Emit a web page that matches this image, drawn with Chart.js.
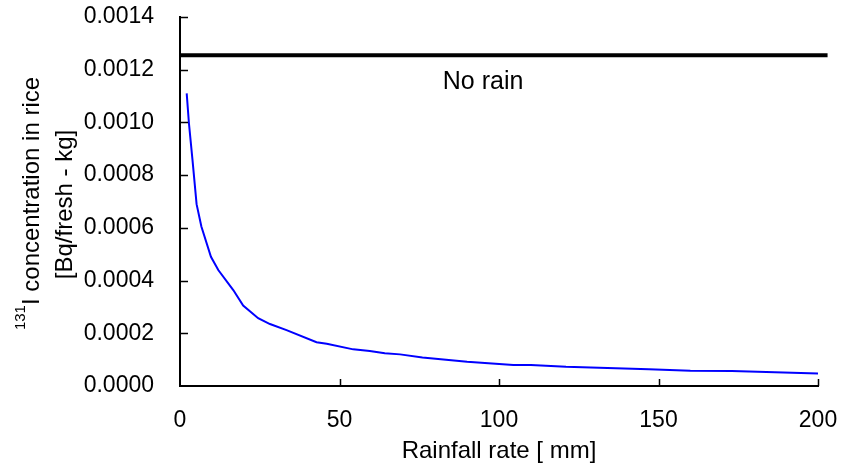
<!DOCTYPE html>
<html>
<head>
<meta charset="utf-8">
<script src="https://cdn.jsdelivr.net/npm/chart.js@4/dist/chart.umd.min.js"></script>
<style>
  html, body { margin: 0; padding: 0; background: #ffffff; }
  canvas { display: block; }
</style>
</head>
<body>
<canvas id="c" width="842" height="466"></canvas>
<script>
// ---- data ----
const rainfall = [2.1, 2.8, 3.9, 5.2, 6.7, 9.7, 12, 16.7, 19.8, 24.5, 28.2, 33.4, 42.8, 46, 54.3, 59.5, 64.2, 69, 76, 90, 104.5, 110, 121, 147, 160, 173, 200];
const concentration = [0.00111, 0.000997, 0.00086, 0.00069, 0.000605, 0.00049, 0.00044, 0.000364, 0.000305, 0.000257, 0.000235, 0.000212, 0.000166, 0.00016, 0.000139, 0.000133, 0.000124, 0.00012, 0.000108, 0.000092, 0.00008, 0.00008, 0.000073, 0.000064, 0.000058, 0.000057, 0.000047];
const noRainLevel = 0.001255;
const noRainRange = [0, 203];
const noRainText = 'No rain';
const xTicks = [0, 50, 100, 150, 200];
const yTicks = [0, 0.0002, 0.0004, 0.0006, 0.0008, 0.0010, 0.0012, 0.0014];
const xTitle = 'Rainfall rate [ mm]';
const yTitleSup = '131';
const yTitleLine1 = 'I concentration in rice';
const yTitleLine2 = '[Bq/fresh - kg]';

const FONT = "'Liberation Sans', Arial, sans-serif";

const decorPlugin = {
  id: 'decor',
  afterDraw(chart) {
    const ctx = chart.ctx;
    const xs = chart.scales.x, ys = chart.scales.y;
    const area = chart.chartArea;
    ctx.save();
    // inward tick marks
    ctx.strokeStyle = '#000';
    ctx.lineWidth = 1.5;
    ctx.beginPath();
    yTicks.forEach(v => {
      if (v === 0) return;
      const py = Math.round(ys.getPixelForValue(v)) + 0.5;
      ctx.moveTo(area.left, py);
      ctx.lineTo(area.left + 8, py);
    });
    xTicks.forEach(v => {
      if (v === 0) return;
      const px = Math.round(xs.getPixelForValue(v)) + 0.5;
      ctx.moveTo(px, area.bottom);
      ctx.lineTo(px, area.bottom - 7);
    });
    ctx.stroke();

    // "No rain" label
    ctx.fillStyle = '#000';
    ctx.font = "25px " + FONT;
    ctx.textAlign = 'center';
    ctx.textBaseline = 'middle';
    ctx.fillText(noRainText, xs.getPixelForValue(95), ys.getPixelForValue(0.001152));

    // y axis title (two lines, rotated, with superscript)
    const cy = (area.top + area.bottom) / 2;
    ctx.translate(32, cy + 2);
    ctx.rotate(-Math.PI / 2);
    ctx.textAlign = 'left';
    ctx.textBaseline = 'middle';
    ctx.font = "15px " + FONT;
    const wSup = ctx.measureText(yTitleSup).width;
    ctx.font = "24px " + FONT;
    const wMain = ctx.measureText(yTitleLine1).width;
    const start = -(wSup + wMain) / 2;
    ctx.font = "15px " + FONT;
    ctx.fillText(yTitleSup, start, -11);
    ctx.font = "24px " + FONT;
    ctx.fillText(yTitleLine1, start + wSup, 0);
    ctx.textAlign = 'center';
    ctx.fillText(yTitleLine2, -1, 33);
    ctx.restore();
  }
};

function noScalePadding(s) {
  s.paddingTop = 0; s.paddingBottom = 0; s.paddingLeft = 0; s.paddingRight = 0;
}

new Chart(document.getElementById('c'), {
  type: 'line',
  data: {
    datasets: [
      {
        label: 'No rain',
        data: noRainRange.map(x => ({ x: x, y: noRainLevel })),
        borderColor: '#000000',
        borderWidth: 4,
        pointRadius: 0,
        clip: false,
        tension: 0
      },
      {
        label: 'Rain',
        data: rainfall.map((x, i) => ({ x: x, y: concentration[i] })),
        borderColor: '#0000ff',
        borderWidth: 2,
        pointRadius: 0,
        tension: 0
      }
    ]
  },
  options: {
    responsive: false,
    animation: false,
    devicePixelRatio: 1,
    layout: { padding: { top: 17, right: 24, bottom: 0, left: 0 } },
    plugins: { legend: { display: false }, tooltip: { enabled: false } },
    scales: {
      x: {
        type: 'linear',
        min: 0,
        max: 200,
        afterBuildTicks: s => { s.ticks = xTicks.map(v => ({ value: v })); },
        afterFit: s => { s.height = 80; noScalePadding(s); },
        grid: { display: false, drawTicks: false },
        border: { display: true, color: '#000', width: 2 },
        ticks: {
          padding: 21,
          color: '#000',
          font: { family: FONT, size: 23 },
          maxRotation: 0,
          callback: v => String(v)
        },
        title: {
          display: true,
          text: xTitle,
          color: '#000',
          font: { family: FONT, size: 24 },
          padding: { top: 0, bottom: 0 }
        }
      },
      y: {
        type: 'linear',
        min: 0,
        max: 0.0014,
        afterBuildTicks: s => { s.ticks = yTicks.map(v => ({ value: v })); },
        afterFit: s => { s.width = 180; noScalePadding(s); },
        grid: { display: false, drawTicks: false },
        border: { display: true, color: '#000', width: 2 },
        ticks: {
          padding: 26,
          color: '#000',
          font: { family: FONT, size: 23 },
          callback: v => Number(v).toFixed(4)
        }
      }
    }
  },
  plugins: [decorPlugin]
});
</script>
</body>
</html>
